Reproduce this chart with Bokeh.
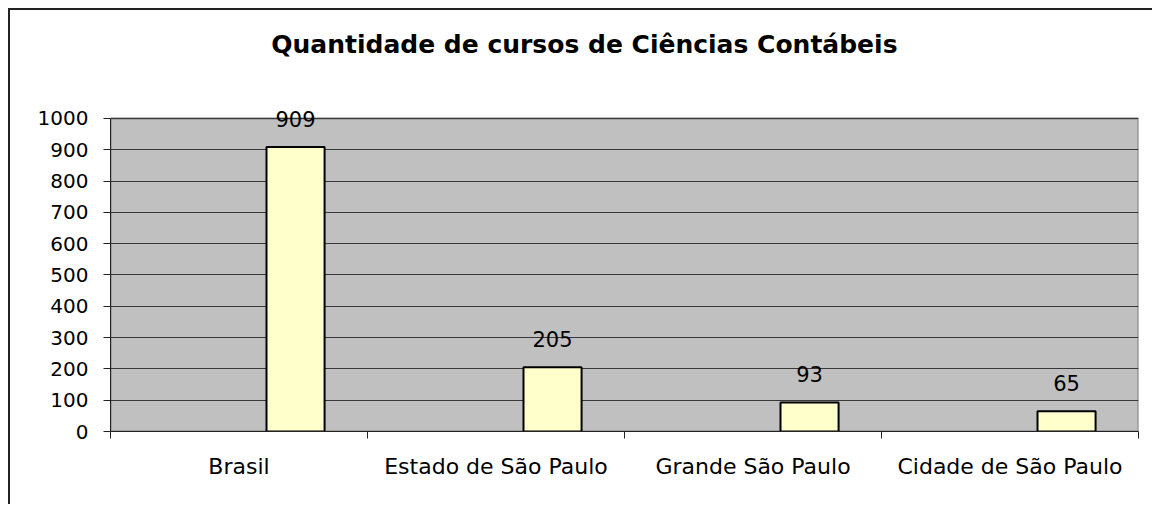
from bokeh.plotting import figure
from bokeh.models import ColumnDataSource, FixedTicker, Range1d, Label, LinearAxis, Grid
from bokeh.core.properties import value
from bokeh.embed import file_html
from bokeh.resources import INLINE

title_text = "Quantidade de cursos de Ciências Contábeis"
categories = ["Brasil", "Estado de São Paulo", "Grande São Paulo", "Cidade de São Paulo"]
counts = [909, 205, 93, 65]
y_ticks = [0, 100, 200, 300, 400, 500, 600, 700, 800, 900, 1000]
y_max = 1000

FONT = "DejaVu Sans"
n = len(categories)
centers = [i + 0.5 for i in range(n)]
bar_x = [c + 0.22 for c in centers]

src = ColumnDataSource(dict(x=bar_x, top=counts, lbl=[str(v) for v in counts]))

p = figure(width=1144, height=496, output_backend="svg", toolbar_location=None,
           x_range=Range1d(0, n), y_range=Range1d(0, 1300),
           min_border_left=100, min_border_right=16, min_border_top=14, min_border_bottom=75,
           x_axis_type=None, y_axis_type=None)
p.styles = {"margin-top": "8px", "margin-left": "8px",
            "border-top": "2px solid #222222", "border-left": "2px solid #222222"}
p.background_fill_color = "white"
p.border_fill_color = "white"
p.outline_line_color = None

# plot area (grey, with grey border), drawn beneath the grid
p.quad(left=[0], right=[n], bottom=[0], top=[y_max],
       fill_color="#C0C0C0", line_color="#808080", line_width=2, level="image")

# y axis
y_ticker = FixedTicker(ticks=y_ticks)
ya = LinearAxis(ticker=y_ticker, bounds=(0, y_max))
ya.axis_line_color = "#222222"
ya.major_tick_line_color = "#222222"
ya.major_tick_out = 7
ya.major_tick_in = 0
ya.minor_tick_line_color = None
ya.major_label_text_font = FONT
ya.major_label_text_font_size = "20px"
ya.major_label_text_color = "black"
ya.major_label_standoff = 15
p.add_layout(ya, "left")

# x axis: labels at category centres, ticks at category boundaries
xa = LinearAxis(ticker=FixedTicker(ticks=centers, minor_ticks=list(range(n + 1))))
xa.major_label_overrides = {c: cat for c, cat in zip(centers, categories)}
xa.axis_line_color = "#222222"
xa.major_tick_line_color = None
xa.major_tick_out = 0
xa.major_tick_in = 0
xa.minor_tick_line_color = "#222222"
xa.minor_tick_out = 7
xa.minor_tick_in = 0
xa.major_label_text_font = FONT
xa.major_label_text_font_size = "22px"
xa.major_label_text_color = "black"
xa.major_label_standoff = 15
p.add_layout(xa, "below")

# horizontal grid lines
p.add_layout(Grid(dimension=1, ticker=y_ticker, grid_line_color="#383838",
                  grid_line_width=1))

p.vbar(x="x", top="top", bottom=0, width=0.226, source=src,
       fill_color="#FFFFCC", line_color="black", line_width=2)

p.text(x="x", y="top", text="lbl", source=src, y_offset=-28,
       text_align="center", text_baseline="middle",
       text_font=value(FONT), text_font_size="21px", text_color="black")

p.add_layout(Label(x=1.844, y=1236, text=title_text, text_align="center",
                   text_baseline="middle", text_font=FONT, text_font_style="bold",
                   text_font_size="25px", text_color="black"))

open("out.html", "w").write(file_html(p, INLINE))
